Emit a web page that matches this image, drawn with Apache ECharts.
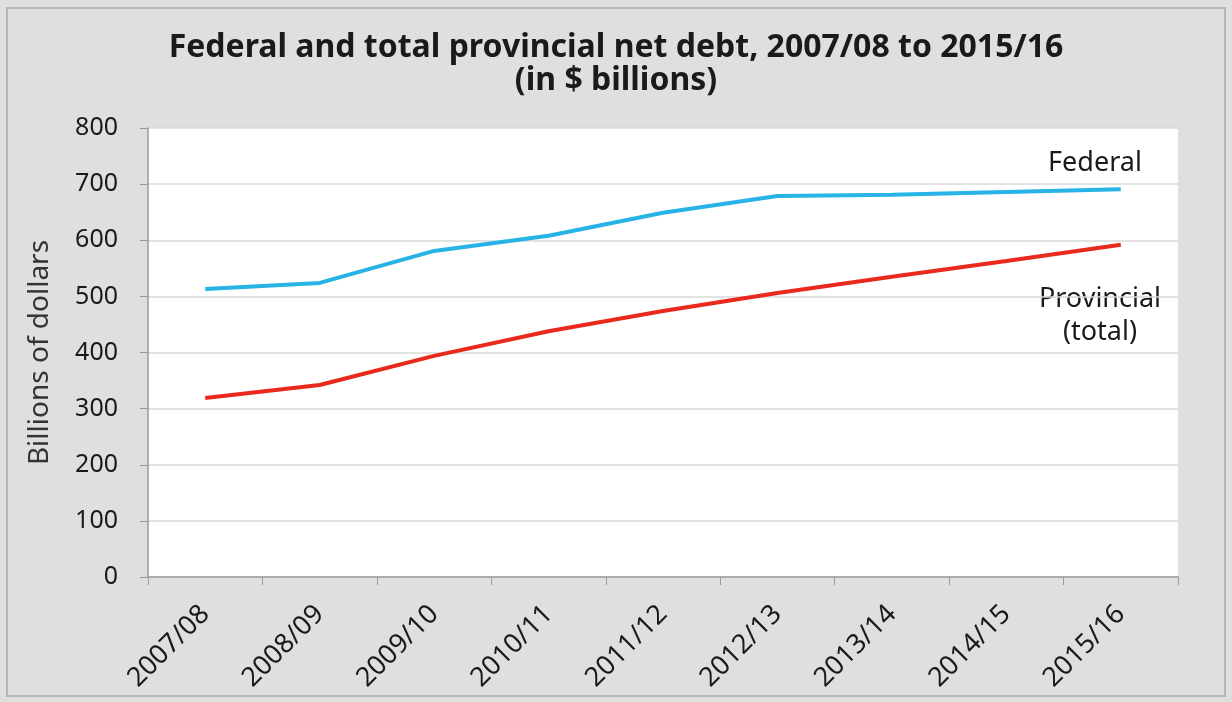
<!DOCTYPE html>
<html>
<head>
<meta charset="utf-8">
<script src="https://cdn.jsdelivr.net/npm/echarts@6/dist/echarts.min.js"></script>
<style>
  body { margin: 0; background: #fff; }
  #main { width: 1232px; height: 702px; }
</style>
</head>
<body>
<div id="main"></div>
<script>
var years = ['2007/08', '2008/09', '2009/10', '2010/11', '2011/12', '2012/13', '2013/14', '2014/15', '2015/16'];
var federal = [513, 524, 581, 608, 649, 679, 681, 686, 691];
var provincial = [319, 342, 394, 438, 474, 506, 535, 563, 592];

var myChart = echarts.init(document.getElementById('main'));
var font = 'Noto Sans';

option = {
    backgroundColor: '#dfdfdf',
    title: {
        text: 'Federal and total provincial net debt, 2007/08 to 2015/16\n(in $ billions)',
        left: 'center',
        top: 26,
        textStyle: {
            fontFamily: font,
            fontSize: 32,
            fontWeight: 'bold',
            color: '#1a1a1a',
            lineHeight: 33
        }
    },
    grid: {
        left: 148,
        right: 54,
        top: 128,
        bottom: 125,
        show: true,
        backgroundColor: '#fff',
        borderWidth: 0
    },
    xAxis: {
        type: 'category',
        data: years,
        boundaryGap: true,
        axisLine: { lineStyle: { color: '#9a9a9a', width: 1.5 } },
        axisTick: { show: true, length: 8, lineStyle: { color: '#9a9a9a' } },
        axisLabel: {
            rotate: 45,
            fontFamily: font,
            fontSize: 27,
            color: '#1a1a1a',
            margin: 33
        }
    },
    yAxis: {
        type: 'value',
        min: 0,
        max: 800,
        interval: 100,
        name: 'Billions of dollars',
        nameLocation: 'middle',
        nameGap: 94,
        nameTextStyle: { fontFamily: font, fontSize: 28, color: '#333' },
        axisLine: { show: true, lineStyle: { color: '#9a9a9a', width: 1.5 } },
        axisTick: { show: true, length: 8, lineStyle: { color: '#9a9a9a' } },
        axisLabel: { fontFamily: font, fontSize: 25, color: '#1a1a1a', margin: 30 },
        splitLine: { lineStyle: { color: '#d9d9d9', width: 1.5 } }
    },
    series: [
        {
            name: 'Federal',
            type: 'line',
            data: federal,
            symbol: 'none',
            lineStyle: { color: '#27b3e6', width: 4 }
        },
        {
            name: 'Provincial (total)',
            type: 'line',
            data: provincial,
            symbol: 'none',
            lineStyle: { color: '#e8291c', width: 4 }
        }
    ],
    graphic: [
        {
            type: 'rect',
            shape: { x: 7, y: 8, width: 1218, height: 688 },
            style: { fill: 'none', stroke: '#b5b5b5', lineWidth: 2 },
            silent: true
        },
        {
            type: 'text',
            x: 1095,
            y: 163,
            style: {
                text: 'Federal', fontFamily: font, fontSize: 27, fill: '#1a1a1a',
                align: 'center', verticalAlign: 'middle'
            }
        },
        {
            type: 'text',
            x: 1100,
            y: 316,
            style: {
                text: 'Provincial\n(total)',
                fontFamily: font,
                fontSize: 27,
                lineHeight: 33,
                align: 'center',
                verticalAlign: 'middle',
                fill: '#1a1a1a'
            }
        }
    ]
};
myChart.setOption(option, true);
</script>
</body>
</html>
